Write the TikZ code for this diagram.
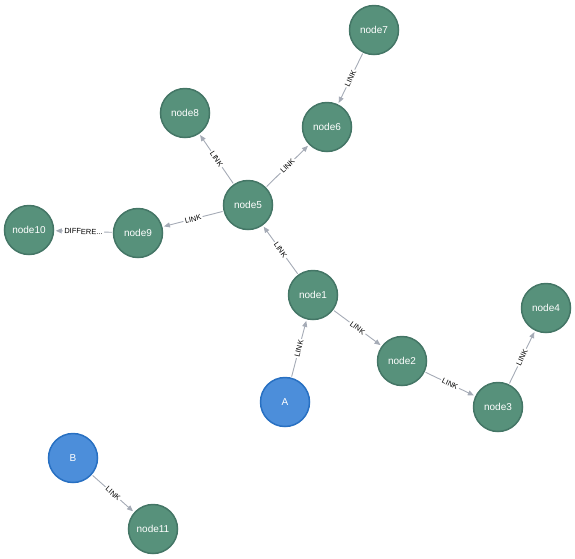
\documentclass[tikz,border=0pt]{standalone}
\usepackage{fontspec}
\setmainfont{Liberation Sans}
\usepackage{tikz}
\usetikzlibrary{arrows.meta}
\usepackage{xcolor}
\definecolor{nodegreen}{HTML}{57917B}
\definecolor{nodegreenline}{HTML}{447666}
\definecolor{nodeblue}{HTML}{4C8EDA}
\definecolor{nodeblueline}{HTML}{2870C2}
\definecolor{edgegray}{HTML}{A5ABB6}

\begin{document}
\begin{tikzpicture}[
  x=1pt, y=-1pt,
  gnode/.style={circle, draw=nodegreenline, line width=1.5pt, fill=nodegreen,
                minimum size=49pt, inner sep=0pt, text=white,
                font=\fontsize{10}{12}\selectfont},
  bnode/.style={gnode, draw=nodeblueline, fill=nodeblue},
  rel/.style={-{Triangle[length=6pt,width=5pt]}, edgegray, line width=0.9pt,
              shorten >=1.5pt, shorten <=1pt},
  rlabel/.style={midway, sloped, fill=white, inner sep=1.5pt, text=black,
                 font=\fontsize{7.5}{9}\selectfont},
]
  \useasboundingbox (0,0) rectangle (575,558);
  % nodes
  \node[gnode] (n7) at (374,30) {node7};
  \node[gnode] (n8) at (185,113) {node8};
  \node[gnode] (n6) at (327,127) {node6};
  \node[gnode] (n5) at (248,205) {node5};
  \node[gnode] (n9) at (138,233) {node9};
  \node[gnode] (n10) at (29,230) {node10};
  \node[gnode] (n1) at (313,295) {node1};
  \node[gnode] (n2) at (402,361) {node2};
  \node[gnode] (n4) at (546,308) {node4};
  \node[gnode] (n3) at (498,407) {node3};
  \node[bnode] (a) at (285,402) {A};
  \node[bnode] (b) at (73,458) {B};
  \node[gnode] (n11) at (153,529) {node11};
  % relationships
  \draw[rel] (a) -- node[rlabel] {LINK} (n1);
  \draw[rel] (n1) -- node[rlabel] {LINK} (n5);
  \draw[rel] (n1) -- node[rlabel] {LINK} (n2);
  \draw[rel] (n2) -- node[rlabel] {LINK} (n3);
  \draw[rel] (n3) -- node[rlabel] {LINK} (n4);
  \draw[rel] (n5) -- node[rlabel] {LINK} (n9);
  \draw[rel] (n5) -- node[rlabel] {LINK} (n8);
  \draw[rel] (n5) -- node[rlabel] {LINK} (n6);
  \draw[rel] (n7) -- node[rlabel] {LINK} (n6);
  \draw[rel] (n9) -- node[rlabel] {DIFFERE...} (n10);
  \draw[rel] (b) -- node[rlabel] {LINK} (n11);
\end{tikzpicture}
\end{document}
